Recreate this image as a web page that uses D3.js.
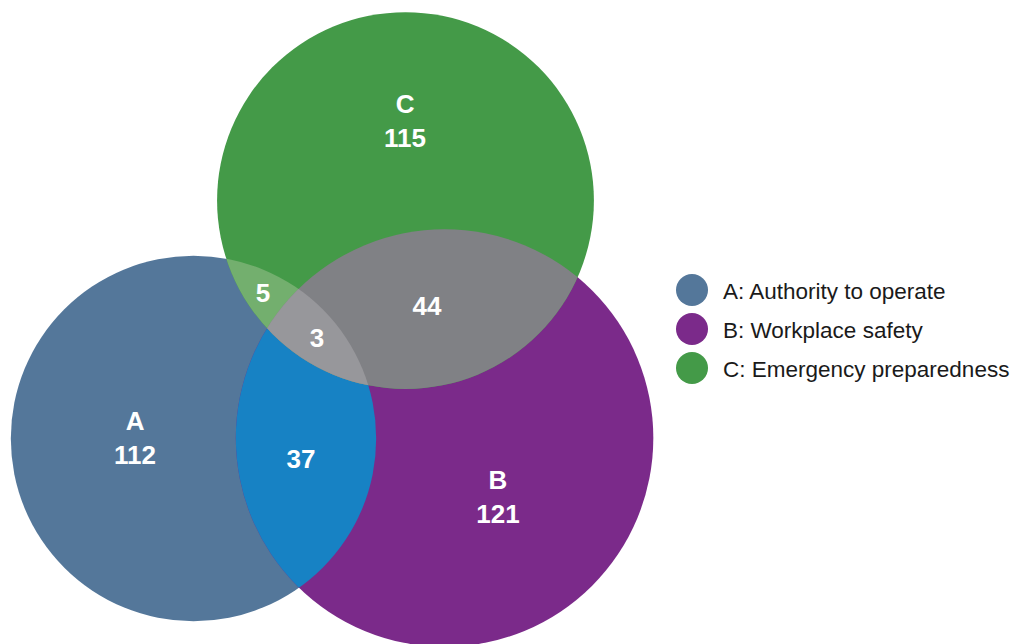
<!DOCTYPE html>
<html>
<head>
<meta charset="utf-8">
<script src="https://cdn.jsdelivr.net/npm/d3@7"></script>
<style>
  html, body { margin: 0; padding: 0; background: #fff; }
  svg { display: block; font-family: "Liberation Sans", Arial, sans-serif; }
</style>
</head>
<body>
<svg id="chart"></svg>
<script>
// sets and region counts
const sets = ['A', 'B', 'C'];
const setNames = ['Authority to operate', 'Workplace safety', 'Emergency preparedness'];
const regionKeys = ['A', 'B', 'C', 'AB', 'AC', 'BC', 'ABC'];
const regionCounts = [112, 121, 115, 37, 5, 44, 3];

// layout in "venn units" (one unit = sqrt scale factor), origin at A's centre
const centerX = [0, 17.22, 14.54];
const centerY = [0, -0.03, -16.32];
const labelX = [-4.01, 20.88, 14.51, 7.37, 4.77, 16.02, 8.47];
const labelY = [-0.58, 3.46, -22.33, 2.02, -9.36, -8.47, -6.28];

const setColors = ['#54779a', '#7b2a8a', '#449a48'];
const regionColors = {AB: '#1782c4', AC: '#73af6e', BC: '#808185', ABC: '#97979b'};

(function() {

const width = 1013;
const height = 644;
const unit = 14.58;

const svg = d3.select('#chart')
  .attr('width', width)
  .attr('height', height);

const x = d3.scaleLinear().domain([0, 1]).range([193.5, 193.5 + unit]);
const y = d3.scaleLinear().domain([0, 1]).range([438.5, 438.5 + unit]);

// total size of each set = sum of regions containing it
const totals = sets.map(s => d3.sum(regionKeys, (k, i) => k.includes(s) ? regionCounts[i] : 0));
const r = d3.scaleSqrt()
  .domain([0, d3.max(totals)])
  .range([0, unit * Math.sqrt(d3.max(totals))]);

const circles = sets.map((s, i) => ({
  key: s,
  cx: x(centerX[i]),
  cy: y(centerY[i]),
  r: r(totals[i]),
  color: setColors[i]
}));
const byKey = Object.fromEntries(circles.map(c => [c.key, c]));

const defs = svg.append('defs');
circles.forEach(c => {
  defs.append('clipPath').attr('id', 'clip-' + c.key)
    .append('circle')
      .attr('cx', c.cx).attr('cy', c.cy).attr('r', c.r);
});

const g = svg.append('g');

// base circles
g.selectAll('.set')
  .data(circles)
  .enter().append('circle')
    .attr('class', 'set')
    .attr('cx', d => d.cx)
    .attr('cy', d => d.cy)
    .attr('r', d => d.r)
    .style('fill', d => d.color);

// intersections, drawn as nested clips
function drawRegion(keys, color) {
  let parent = g;
  keys.slice(0, -1).forEach(k => {
    parent = parent.append('g').attr('clip-path', `url(#clip-${k})`);
  });
  const last = byKey[keys[keys.length - 1]];
  parent.append('circle')
    .attr('cx', last.cx).attr('cy', last.cy).attr('r', last.r)
    .style('fill', color);
}
['AB', 'AC', 'BC', 'ABC'].forEach(k => drawRegion(k.split(''), regionColors[k]));

// region labels
const labels = g.selectAll('.region-label')
  .data(regionKeys.map((k, i) => ({key: k, count: regionCounts[i], lx: x(labelX[i]), ly: y(labelY[i])})))
  .enter().append('text')
    .attr('class', 'region-label')
    .attr('text-anchor', 'middle')
    .style('fill', '#fff')
    .style('font-weight', 'bold')
    .style('font-size', '26px');

labels.each(function(d) {
  const t = d3.select(this);
  if (d.key.length === 1) {
    t.append('tspan').attr('x', d.lx).attr('y', d.ly).text(d.key);
    t.append('tspan').attr('x', d.lx).attr('y', d.ly + 34).text(d.count);
  } else {
    t.append('tspan').attr('x', d.lx).attr('y', d.ly).text(d.count);
  }
});

// legend
const legend = svg.append('g')
  .attr('transform', 'translate(692,290)');

const item = legend.selectAll('.item')
  .data(sets)
  .enter().append('g')
    .attr('class', 'item')
    .attr('transform', (d, i) => `translate(0,${i * 39})`);

item.append('circle')
  .attr('r', 16)
  .style('fill', (d, i) => setColors[i]);

item.append('text')
  .attr('x', 31)
  .attr('y', 8.5)
  .style('font-size', '22.5px')
  .style('fill', '#1a1a1a')
  .text((d, i) => `${d}: ${setNames[i]}`);

})();
</script>
</body>
</html>
